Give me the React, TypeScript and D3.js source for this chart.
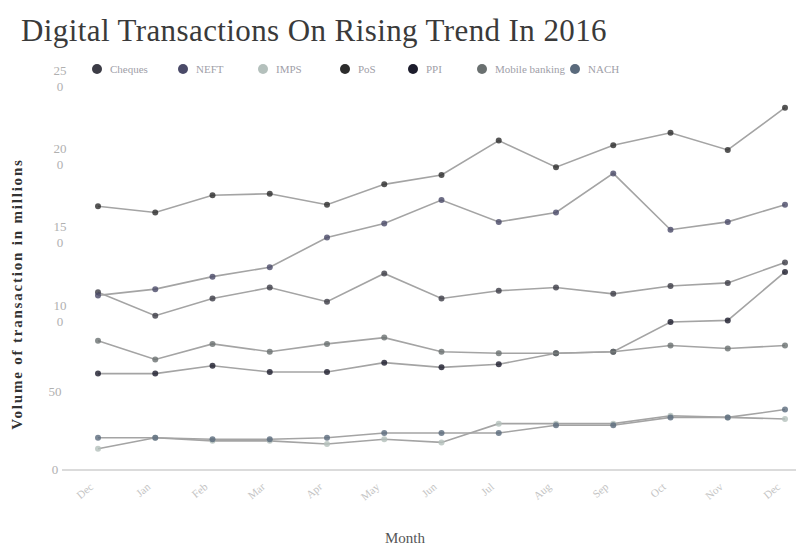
import React from "react";
import * as d3 from "d3";

const months = ["Dec", "Jan", "Feb", "Mar", "Apr", "May", "Jun", "Jul", "Aug", "Sep", "Oct", "Nov", "Dec"];
const seriesNames = ["Cheques", "NEFT", "IMPS", "PoS", "PPI", "Mobile banking", "NACH"];
const cheques = [113, 98, 109, 116, 107, 125, 109, 114, 116, 112, 117, 119, 132];
const neft = [111, 115, 123, 129, 148, 157, 172, 158, 164, 189, 153, 158, 169];
const imps = [13, 20, 18, 18, 16, 19, 17, 29, 29, 29, 34, 33, 32];
const pos = [168, 164, 175, 176, 169, 182, 188, 210, 193, 207, 215, 204, 231];
const ppi = [61, 61, 66, 62, 62, 68, 65, 67, 74, 75, 94, 95, 126];
const mobileBanking = [82, 70, 80, 75, 80, 84, 75, 74, 74, 75, 79, 77, 79];
const nach = [20, 20, 19, 19, 20, 23, 23, 23, 28, 28, 33, 33, 38];
const yTicks = [0, 50, 100, 150, 200, 250];

const seriesValues = [cheques, neft, imps, pos, ppi, mobileBanking, nach];
const legendColors = ["#3c3c46", "#4a4a68", "#b4c0bc", "#2c2c2c", "#1c1c2c", "#6a7070", "#5a6a7c"];
const legendX = [97, 183, 263, 345, 413, 482, 575];

export default function App() {
  const x = d3.scalePoint<string>().domain(months.map((m, i) => i + "")).range([98, 785]);
  const y = d3.scaleLinear().domain([0, 250]).range([469, 78]);
  const line = d3
    .line<number>()
    .x((_, i) => x(i + "") as number)
    .y((d) => y(d));

  return (
    <svg width={796} height={549} style={{ position: "absolute", left: 0, top: 0, background: "#fff" }}
      fontFamily="'Liberation Serif', 'DejaVu Serif', serif">
      <text x={21} y={41} fontSize={31} letterSpacing={0.4} fill="#3a3a3a">Digital Transactions On Rising Trend In 2016</text>

      {seriesNames.map((n, i) => (
        <g key={n}>
          <circle cx={legendX[i]} cy={69} r={5} fill={legendColors[i]} />
          <text x={legendX[i] + 13} y={73} fontSize={11} fill="#a0a0a8">{n}</text>
        </g>
      ))}

      {yTicks.map((t) => {
        const s = String(t);
        if (s.length > 2) {
          return (
            <text key={t} x={60} y={y(t) - 3} fontSize={13} fill="#b0b0b0" textAnchor="middle">
              <tspan x={60}>{s.slice(0, 2)}</tspan>
              <tspan x={60} dy={16}>{s.slice(2)}</tspan>
            </text>
          );
        }
        return (
          <text key={t} x={55} y={y(t) + 5} fontSize={13} fill="#b0b0b0" textAnchor="middle">{s}</text>
        );
      })}

      <line x1={62} x2={796} y1={y(0) + 1} y2={y(0) + 1} stroke="#b8b8b8" strokeWidth={1.2} />

      {months.map((m, i) => {
        const px = x(i + "") as number;
        return (
          <text key={i} x={px - 4} y={488} fontSize={11} fill="#c4c4c4" textAnchor="end"
            transform={`rotate(-40 ${px - 4} 488)`}>{m}</text>
        );
      })}

      <text x={405} y={543} fontSize={15} fill="#555" textAnchor="middle">Month</text>
      <text transform="translate(22 294) rotate(-90)" fontSize={15} letterSpacing={1.8} fontWeight="bold" fill="#333" textAnchor="middle">
        Volume of transaction in millions
      </text>

      {seriesValues.map((vals, si) => (
        <g key={si}>
          <path d={line(vals) || ""} fill="none" stroke="#a4a4a4" strokeWidth={1.6} />
          {vals.map((v, i) => (
            <circle key={i} cx={x(i + "") as number} cy={y(v)} r={3} fill={legendColors[si]} fillOpacity={0.8} />
          ))}
        </g>
      ))}
    </svg>
  );
}
